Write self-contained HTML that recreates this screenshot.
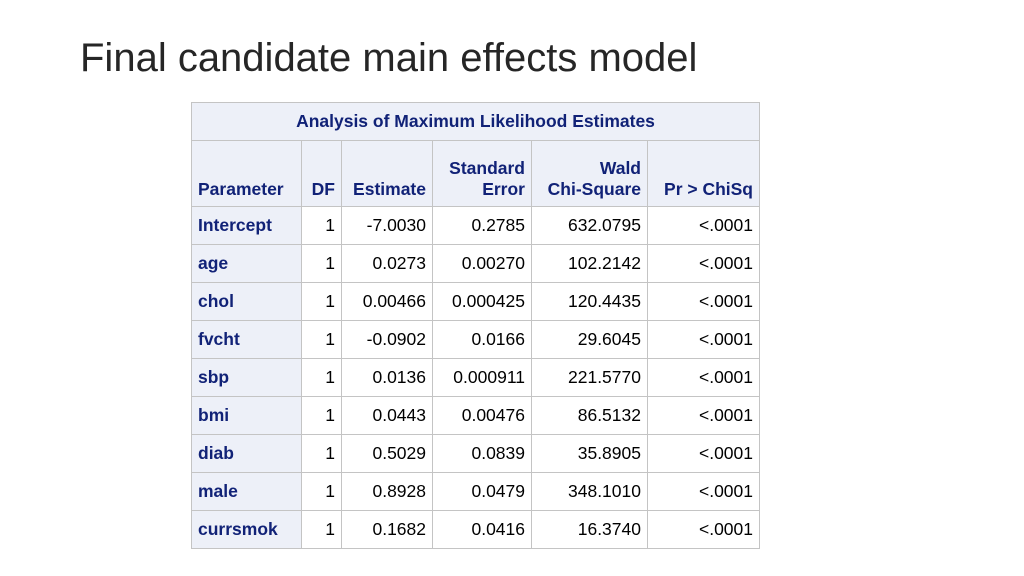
<!DOCTYPE html>
<html><head><meta charset="utf-8"><style>
body{margin:0;width:1024px;height:576px;background:#fff;position:relative;overflow:hidden;font-family:"Liberation Sans",sans-serif}
h1{position:absolute;left:80px;top:36px;margin:0;font-weight:normal;font-size:40px;color:#262626;letter-spacing:0px}
table{position:absolute;left:191px;top:102px;border-collapse:collapse;font-size:17.5px}
td,th{border:1.5px solid #c4c4c4;padding:0 6px;height:37px;color:#000}
th{background:#edf0f8;color:#112277;font-weight:bold}
th.title{height:37px;text-align:center}
tr.hdr th{height:59px;vertical-align:bottom;padding-bottom:6px;text-align:right;padding-top:0}
td.p{background:#edf0f8;color:#112277;font-weight:bold;text-align:left}
td{text-align:right}
</style></head><body>
<h1>Final candidate main effects model</h1>
<table>
<colgroup><col style="width:110px"><col style="width:40px"><col style="width:91px"><col style="width:99px"><col style="width:116px"><col style="width:112px"></colgroup>
<tr><th class="title" colspan="6">Analysis of Maximum Likelihood Estimates</th></tr>
<tr class="hdr"><th style="text-align:left">Parameter</th><th>DF</th><th>Estimate</th><th>Standard<br>Error</th><th>Wald<br>Chi-Square</th><th>Pr &gt; ChiSq</th></tr>
<tr><td class="p">Intercept</td><td>1</td><td>-7.0030</td><td>0.2785</td><td>632.0795</td><td>&lt;.0001</td></tr>
<tr><td class="p">age</td><td>1</td><td>0.0273</td><td>0.00270</td><td>102.2142</td><td>&lt;.0001</td></tr>
<tr><td class="p">chol</td><td>1</td><td>0.00466</td><td>0.000425</td><td>120.4435</td><td>&lt;.0001</td></tr>
<tr><td class="p">fvcht</td><td>1</td><td>-0.0902</td><td>0.0166</td><td>29.6045</td><td>&lt;.0001</td></tr>
<tr><td class="p">sbp</td><td>1</td><td>0.0136</td><td>0.000911</td><td>221.5770</td><td>&lt;.0001</td></tr>
<tr><td class="p">bmi</td><td>1</td><td>0.0443</td><td>0.00476</td><td>86.5132</td><td>&lt;.0001</td></tr>
<tr><td class="p">diab</td><td>1</td><td>0.5029</td><td>0.0839</td><td>35.8905</td><td>&lt;.0001</td></tr>
<tr><td class="p">male</td><td>1</td><td>0.8928</td><td>0.0479</td><td>348.1010</td><td>&lt;.0001</td></tr>
<tr><td class="p">currsmok</td><td>1</td><td>0.1682</td><td>0.0416</td><td>16.3740</td><td>&lt;.0001</td></tr>
</table>
</body></html>
